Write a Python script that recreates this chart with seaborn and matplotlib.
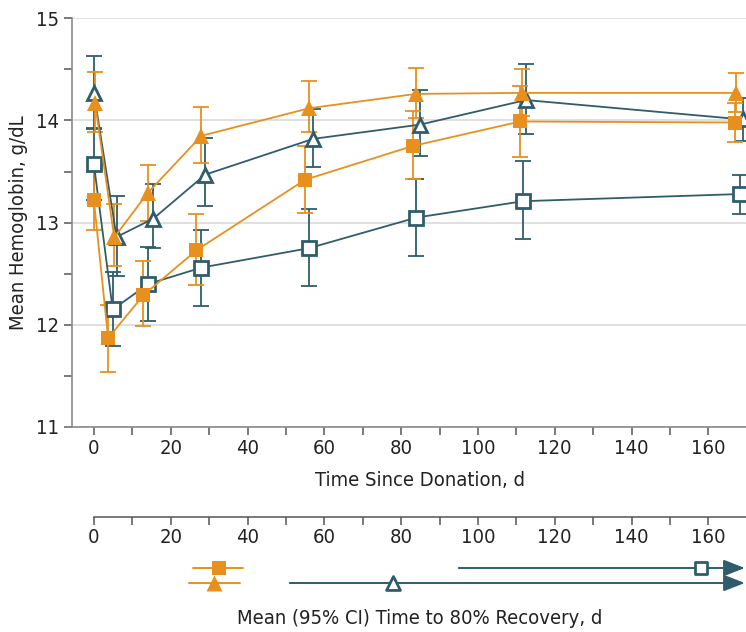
import matplotlib

matplotlib.use("Agg")
import matplotlib.pyplot as plt
from matplotlib import font_manager
from matplotlib.ticker import MultipleLocator
import numpy as np
import pandas as pd
import seaborn as sns

ORANGE = "#E8901E"
TEAL = "#2F5D6B"

# Hemoglobin by visit, one set of arrays per group
series_names = ["No iron, low ferritin", "No iron, higher ferritin",
                "Iron, low ferritin", "Iron, higher ferritin"]

days_teal_sq = [0, 4.9, 14.2, 28.0, 56.0, 84.0, 111.8, 168.2]
hb_teal_sq = [13.57, 12.15, 12.40, 12.56, 12.75, 13.05, 13.21, 13.28]
lo_teal_sq = [13.22, 11.79, 12.04, 12.18, 12.38, 12.67, 12.84, 13.08]
hi_teal_sq = [13.92, 12.52, 12.76, 12.93, 13.13, 13.43, 13.60, 13.47]

days_teal_tri = [0, 5.9, 15.5, 29.0, 57.1, 85.0, 112.5, 169.0]
hb_teal_tri = [14.27, 12.86, 13.04, 13.47, 13.82, 13.96, 14.20, 14.01]
lo_teal_tri = [13.93, 12.48, 12.75, 13.16, 13.54, 13.65, 13.87, 13.80]
hi_teal_tri = [14.63, 13.26, 13.38, 13.83, 14.11, 14.30, 14.55, 14.22]

days_or_sq = [0, 3.7, 12.9, 26.7, 55.0, 83.0, 111.0, 167.0]
hb_or_sq = [13.22, 11.87, 12.29, 12.73, 13.42, 13.75, 13.99, 13.98]
lo_or_sq = [12.93, 11.54, 11.99, 12.39, 13.09, 13.43, 13.64, 13.79]
hi_or_sq = [13.51, 12.19, 12.62, 13.08, 13.75, 14.09, 14.34, 14.17]

days_or_tri = [0.3, 5.3, 14.0, 28.0, 56.1, 83.8, 111.4, 167.3]
hb_or_tri = [14.17, 12.855, 13.29, 13.85, 14.12, 14.26, 14.27, 14.27]
lo_or_tri = [13.89, 12.58, 13.02, 13.58, 13.89, 14.02, 14.04, 14.08]
hi_or_tri = [14.47, 13.18, 13.56, 14.13, 14.39, 14.51, 14.50, 14.46]

# Mean (95% CI) days to 80% recovery; open_end means CI runs past 168 d
recov_mean = [158, 78, 32.6, 31.3]
recov_lo = [95, 51, 25.8, 24.8]
recov_hi = [168, 168, 38.8, 38.0]
recov_open_end = [True, True, False, False]
recov_row = [0, 1, 0, 1]

FS = 14.5


def configure_font() -> None:
    sns.set_theme(style="white")
    installed = {f.name for f in font_manager.fontManager.ttflist}
    if "Liberation Sans Narrow" in installed:
        plt.rcParams["font.family"] = ["Liberation Sans Narrow", "DejaVu Sans"]
    else:
        plt.rcParams["font.family"] = ["DejaVu Sans"]
        plt.rcParams["font.stretch"] = "condensed"
    plt.rcParams["font.size"] = FS


def main() -> None:
    configure_font()
    fig = plt.figure(figsize=(7.46, 6.32), dpi=100)
    W, H = 746, 632
    ax = fig.add_axes([72 / W, 1 - 427 / H, (W - 72) / W, (427 - 18.3) / H])

    styles = [
        (days_teal_sq, hb_teal_sq, lo_teal_sq, hi_teal_sq, TEAL, "s", "white", 9.5),
        (days_teal_tri, hb_teal_tri, lo_teal_tri, hi_teal_tri, TEAL, "^", "white", 10.5),
        (days_or_sq, hb_or_sq, lo_or_sq, hi_or_sq, ORANGE, "s", ORANGE, 10),
        (days_or_tri, hb_or_tri, lo_or_tri, hi_or_tri, ORANGE, "^", ORANGE, 11.5),
    ]
    for name, (d, hb, lo, hi, col, mk, fc, ms) in zip(series_names, styles):
        df = pd.DataFrame({"day": d, "hb": hb, "lo": lo, "hi": hi})
        ax.errorbar(df["day"], df["hb"],
                    yerr=[df["hb"] - df["lo"], df["hi"] - df["hb"]],
                    fmt="none", ecolor=col, elinewidth=1.3, capsize=6,
                    capthick=1.3, zorder=2)
        sns.lineplot(data=df, x="day", y="hb", ax=ax, color=col, lw=1.3,
                     marker=mk, markersize=ms, markerfacecolor=fc,
                     markeredgecolor=col, markeredgewidth=2 if fc == "white" else 0,
                     estimator=None, sort=False, label=name, zorder=3,
                     clip_on=False)
    ax.legend_.remove()

    ax.set_xlim(-5.7, 169.8)
    ax.set_ylim(11, 15)
    ax.xaxis.set_major_locator(MultipleLocator(20))
    ax.xaxis.set_minor_locator(MultipleLocator(10))
    ax.yaxis.set_major_locator(MultipleLocator(1))
    ax.yaxis.set_minor_locator(MultipleLocator(0.5))
    ax.set_xticks(np.arange(0, 161, 20))
    ax.yaxis.grid(True, which="major", color="#dddddd", lw=1.3)
    ax.set_axisbelow(True)
    for s in ["top", "right"]:
        ax.spines[s].set_visible(False)
    for s in ["left", "bottom"]:
        ax.spines[s].set_color("#8a8a8a")
        ax.spines[s].set_linewidth(1.2)
    ax.spines["bottom"].set_bounds(-7.6, 169.8)
    ax.tick_params(which="both", direction="out", length=6, width=1.1,
                   color="#555555", labelcolor="#222222", labelsize=FS, pad=3)
    ax.tick_params(axis="y", which="both", left=True)
    ax.tick_params(axis="x", which="both", bottom=True)
    ax.set_xlabel("")
    ax.set_ylabel("Mean Hemoglobin, g/dL", fontsize=FS, color="#222222", labelpad=6)
    fig.text(420 / W, 1 - 481 / H, "Time Since Donation, d", ha="center",
             va="center", fontsize=FS, color="#222222")

    # recovery axis line with ticks
    ax2 = fig.add_axes([72 / W, 1 - 517 / H, (W - 72) / W, 0.01])
    ax2.set_xlim(ax.get_xlim())
    ax2.set_yticks([])
    for s in ["top", "right", "left"]:
        ax2.spines[s].set_visible(False)
    ax2.spines["bottom"].set_color("#555555")
    ax2.spines["bottom"].set_linewidth(1.1)
    ax2.spines["bottom"].set_bounds(0, 169.8)
    ax2.set_xticks(np.arange(0, 161, 20))
    ax2.xaxis.set_minor_locator(MultipleLocator(10))
    ax2.tick_params(which="both", direction="out", length=6, width=1.1,
                    color="#555555", labelcolor="#222222", labelsize=FS, pad=2)
    ax2.tick_params(axis="x", which="both", bottom=True)
    ax2.patch.set_visible(False)

    # recovery rows
    ax3 = fig.add_axes([72 / W, 1 - 590.5 / H, (W - 72) / W, 30 / H])
    ax3.set_xlim(ax.get_xlim())
    ax3.set_ylim(1.5, -0.5)
    ax3.axis("off")
    marks = [("s", "white", 8.5, TEAL), ("^", "white", 10, TEAL),
             ("s", ORANGE, 10, ORANGE), ("^", ORANGE, 11.5, ORANGE)]
    for i in range(len(recov_mean)):
        mk, fc, ms, col = marks[i]
        row = recov_row[i]
        if recov_open_end[i]:
            ax3.annotate("", xy=(recov_hi[i] + 1.5, row), xytext=(recov_lo[i], row),
                         arrowprops=dict(arrowstyle="-|>,head_length=0.9,head_width=0.35",
                                         color=col, lw=1.4, shrinkA=0, shrinkB=0),
                         annotation_clip=False)
        else:
            ax3.plot([recov_lo[i], recov_hi[i]], [row, row], color=col, lw=1.4)
        sns.scatterplot(x=[recov_mean[i]], y=[row], ax=ax3, marker=mk, s=ms ** 2,
                        color=fc, edgecolor=col, linewidth=2 if fc == "white" else 0,
                        zorder=4, clip_on=False)
    fig.text(420 / W, 1 - 619 / H, "Mean (95% CI) Time to 80% Recovery, d",
             ha="center", va="center", fontsize=FS, color="#222222")

    fig.savefig("out.png", dpi=100)
    plt.close(fig)


if __name__ == "__main__":
    main()
